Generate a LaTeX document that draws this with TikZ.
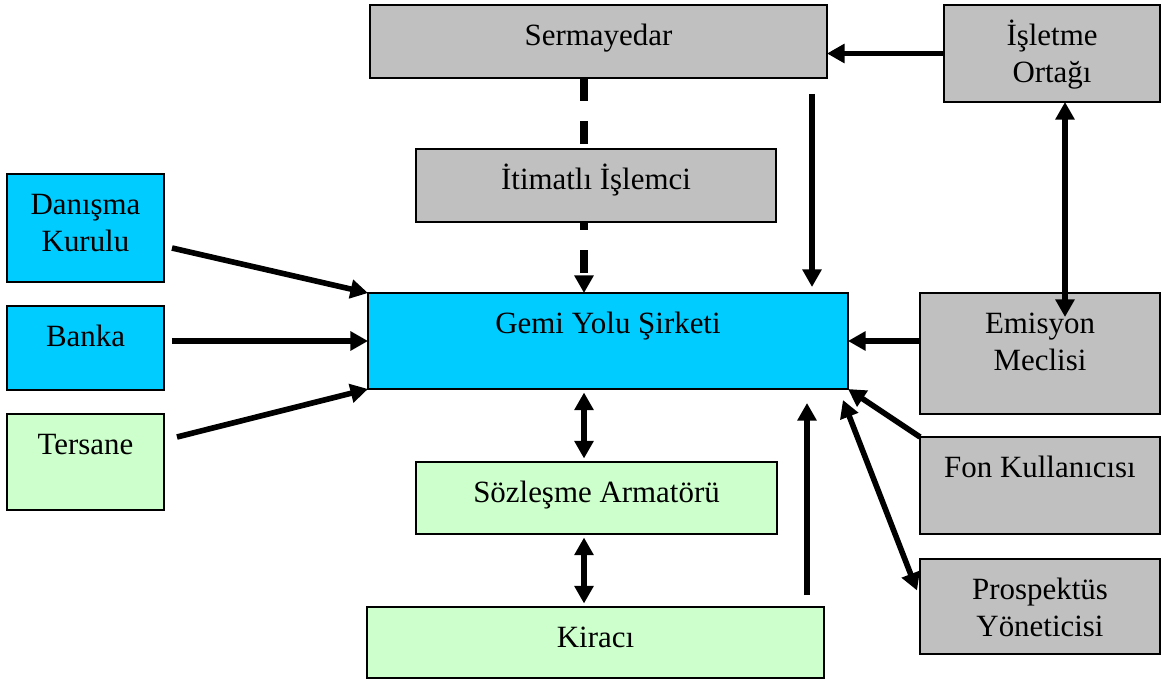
\documentclass[tikz,border=0pt]{standalone}
\usepackage{fontspec}
\setmainfont{Liberation Serif}
\usetikzlibrary{arrows.meta,backgrounds,calc}
\definecolor{boxgray}{HTML}{C0C0C0}
\definecolor{boxcyan}{HTML}{00CCFF}
\definecolor{boxgreen}{HTML}{CCFFCC}
% fixed-height strut so every caption sits on the same baseline
\newcommand\capstrut{\rule{0pt}{16pt}}

\begin{document}
\begin{tikzpicture}[x=0.02cm, y=-0.02cm,
  box/.style={draw=black, line width=1.1pt, inner sep=0pt, outer sep=0pt},
  captext/.style={anchor=north, yshift=-6.8pt, inner sep=0pt, align=center,
              font=\fontsize{17.6}{21}\selectfont},
  headtip/.tip={Triangle[length=10pt,width=10.5pt]},
  onelink/.style={line width=3.2pt, -headtip},
  bilink/.style={line width=3.2pt, headtip-headtip},
  dashlink/.style={line width=4pt, dash pattern=on 13pt off 11.5pt, -headtip}]

\useasboundingbox (0,0) rectangle (1163,682);

% boxes
\node[box, fill=boxgray, minimum width=9.14cm, minimum height=1.46cm,
      label={[captext]north:\capstrut Sermayedar}] (serm) at (598.5,41.5) {};
\node[box, fill=boxgray, minimum width=4.32cm, minimum height=1.94cm,
      label={[captext]north:\capstrut İşletme\\Ortağı}] (islet) at (1052,53.5) {};
\node[box, fill=boxgray, minimum width=7.2cm, minimum height=1.46cm,
      label={[captext]north:\capstrut İtimatlı İşlemci}] (itim) at (596,185.5) {};
\node[box, fill=boxcyan, minimum width=3.14cm, minimum height=2.16cm,
      label={[captext]north:\capstrut Danışma\\Kurulu}] (danis) at (85.5,228) {};
\node[box, fill=boxcyan, minimum width=3.14cm, minimum height=1.68cm,
      label={[captext]north:\capstrut Banka}] (banka) at (85.5,348) {};
\node[box, fill=boxgreen, minimum width=3.14cm, minimum height=1.92cm,
      label={[captext]north:\capstrut Tersane}] (tersane) at (85.5,462) {};
\node[box, fill=boxcyan, minimum width=9.6cm, minimum height=1.92cm,
      label={[captext]north:\capstrut Gemi Yolu Şirketi}] (gemi) at (608,341) {};
\node[box, fill=boxgray, minimum width=4.8cm, minimum height=2.42cm,
      label={[captext]north:\capstrut Emisyon\\Meclisi}] (emis) at (1040,353.5) {};
\node[box, fill=boxgray, minimum width=4.8cm, minimum height=1.94cm,
      label={[captext]north:\capstrut Fon Kullanıcısı}] (fon) at (1040,485.5) {};
\node[box, fill=boxgreen, minimum width=7.22cm, minimum height=1.44cm,
      label={[captext]north:\capstrut Sözleşme Armatörü}] (sozl) at (596.5,498) {};
\node[box, fill=boxgray, minimum width=4.8cm, minimum height=1.9cm,
      label={[captext]north:\capstrut Prospektüs\\Yöneticisi}] (prosp) at (1040,606.5) {};
\node[box, fill=boxgreen, minimum width=9.14cm, minimum height=1.42cm,
      label={[captext]north:\capstrut Kiracı}] (kiraci) at (595.5,642.5) {};

% guide positions for the straight vertical connectors
\coordinate (axis) at (584,0);
\coordinate (raxis) at (1065,0);
\coordinate (vtop) at (812,94);
\coordinate (vbot) at (812,287);
\coordinate (ubot) at (807,595);
\coordinate (utop) at (807,403);

% dashed link runs behind the boxes
\begin{pgfonlayer}{background}
  \draw[dashlink] (serm.south -| axis) -- (gemi.north -| axis);
\end{pgfonlayer}

% connectors
\draw[onelink] (islet.west) -- (islet.west -| serm.east);
\draw[onelink] (vtop) -- (vbot);
\draw[bilink] (islet.south -| raxis) -- ($(emis.north -| raxis)+(0,24)$);
\draw[onelink] (gemi.east -| emis.west) -- (gemi.east);
\draw[onelink] (fon.north west) -- (gemi.south east);
\draw[bilink] ($(gemi.south east)+(-5,11)$) -- ($(prosp.west)+(-3,-16)$);
\draw[onelink] (ubot) -- (utop);
\draw[bilink, shorten <=2pt, shorten >=2pt] (gemi.south -| axis) -- (sozl.north -| axis);
\draw[bilink, shorten <=2pt, shorten >=2pt] (sozl.south -| axis) -- (kiraci.north -| axis);
\draw[onelink] ($(danis.east)+(8,20)$) -- (gemi.north west);
\draw[onelink] ($(banka.east |- gemi.west)+(8,0)$) -- (gemi.west);
\draw[onelink] ($(tersane.east)+(13,-25)$) -- (gemi.south west);

\end{tikzpicture}
\end{document}
